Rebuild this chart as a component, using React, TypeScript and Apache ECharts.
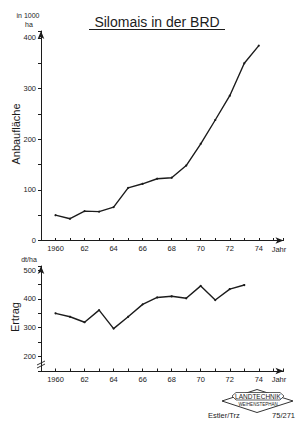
import React, { useEffect, useRef } from "react";
import * as echarts from "echarts";

const yearsArea = [1960, 1961, 1962, 1963, 1964, 1965, 1966, 1967, 1968, 1969, 1970, 1971, 1972, 1973, 1974];
const areaValues = [50, 43, 58, 57, 66, 104, 112, 122, 124, 148, 191, 238, 286, 350, 385];
const yearsYield = [1960, 1961, 1962, 1963, 1964, 1965, 1966, 1967, 1968, 1969, 1970, 1971, 1972, 1973];
const yieldValues = [350, 338, 319, 361, 297, 338, 381, 405, 409, 402, 445, 396, 434, 448];
const areaTickLabels = [0, 100, 200, 300, 400];
const yieldTickLabels = [200, 300, 400, 500];
const labeledYears = [1960, 1962, 1964, 1966, 1968, 1970, 1972, 1974];

const FONT = "Liberation Sans";
const INK = "#1c1c1c";

export default function App() {
  const ref = useRef<HTMLDivElement>(null);
  useEffect(() => {
    if (!ref.current) return;
    const chart = echarts.init(ref.current, undefined, { renderer: "svg" });

    const xFmt = (v: number) => {
      if (!labeledYears.includes(v)) return "";
      return v === 1960 ? "1960" : String(v).slice(2);
    };
    const xAxisBase = (gridIndex: number) => ({
      type: "value" as const,
      gridIndex,
      min: 1959,
      max: 1975.7,
      interval: 1,
      axisLine: {
        show: true,
        lineStyle: { color: INK, width: 1 },
        symbol: ["none", "arrow"],
        symbolSize: [5, 8],
      },
      axisTick: { show: true, inside: true, length: 2.5, lineStyle: { color: INK } },
      splitLine: { show: false },
      axisLabel: {
        formatter: xFmt,
        fontFamily: FONT,
        fontSize: 7.5,
        color: INK,
        margin: 4,
        showMinLabel: true,
        showMaxLabel: true,
        hideOverlap: false,
      },
    });
    const yAxisBase = (gridIndex: number, min: number, max: number, labels: number[]) => ({
      type: "value" as const,
      gridIndex,
      min,
      max,
      interval: 50,
      axisLine: {
        show: true,
        lineStyle: { color: INK, width: 1 },
        symbol: ["none", "arrow"],
        symbolSize: [5, 8],
      },
      axisTick: { show: true, inside: false, length: 3, lineStyle: { color: INK } },
      splitLine: { show: false },
      axisLabel: {
        formatter: (v: number) => (labels.includes(v) ? String(v) : ""),
        fontFamily: FONT,
        fontSize: 7.5,
        color: INK,
        margin: 5,
        hideOverlap: false,
      },
    });

    const lineSeries = (idx: number, xs: number[], ys: number[]) => ({
      type: "line" as const,
      xAxisIndex: idx,
      yAxisIndex: idx,
      data: xs.map((x, i) => [x, ys[i]]),
      symbol: "circle",
      symbolSize: 2.2,
      showSymbol: true,
      itemStyle: { color: INK },
      lineStyle: { color: INK, width: 1.4 },
      silent: true,
    });

    chart.setOption({
      animation: false,
      backgroundColor: "#ffffff",
      textStyle: { fontFamily: FONT },
      grid: [
        { left: 41, top: 31, width: 242.5, height: 209.5 },
        { left: 41, top: 266, width: 242.5, height: 105 },
      ],
      xAxis: [xAxisBase(0), xAxisBase(1)],
      yAxis: [
        yAxisBase(0, 0, 413.8, areaTickLabels),
        yAxisBase(1, 150, 514, yieldTickLabels),
      ],
      series: [lineSeries(0, yearsArea, areaValues), lineSeries(1, yearsYield, yieldValues)],
      graphic: [
        {
          type: "text",
          x: 157,
          y: 22,
          style: {
            text: "Silomais in der BRD",
            fontFamily: FONT,
            fontSize: 14,
            fill: INK,
            align: "center",
            verticalAlign: "middle",
          },
        },
        { type: "line", shape: { x1: 89, y1: 29.5, x2: 225, y2: 29.5 }, style: { stroke: INK, lineWidth: 1.2 } },
        {
          type: "text",
          x: 28,
          y: 15,
          style: { text: "in 1000", fontFamily: FONT, fontSize: 7, fill: INK, align: "center", verticalAlign: "middle" },
        },
        {
          type: "text",
          x: 29,
          y: 24,
          style: { text: "ha", fontFamily: FONT, fontSize: 7, fill: INK, align: "center", verticalAlign: "middle" },
        },
        {
          type: "text",
          x: 16,
          y: 134,
          rotation: Math.PI / 2,
          style: { text: "Anbaufläche", fontFamily: FONT, fontSize: 11, fill: INK, align: "center", verticalAlign: "middle" },
        },
        {
          type: "text",
          x: 279,
          y: 249,
          style: { text: "Jahr", fontFamily: FONT, fontSize: 7.5, fill: INK, align: "center", verticalAlign: "middle" },
        },
        {
          type: "text",
          x: 29,
          y: 259,
          style: { text: "dt/ha", fontFamily: FONT, fontSize: 7, fill: INK, align: "center", verticalAlign: "middle" },
        },
        {
          type: "text",
          x: 15,
          y: 317,
          rotation: Math.PI / 2,
          style: { text: "Ertrag", fontFamily: FONT, fontSize: 11, fill: INK, align: "center", verticalAlign: "middle" },
        },
        {
          type: "text",
          x: 279,
          y: 379,
          style: { text: "Jahr", fontFamily: FONT, fontSize: 7.5, fill: INK, align: "center", verticalAlign: "middle" },
        },
        { type: "line", shape: { x1: 37, y1: 365, x2: 45, y2: 361 }, style: { stroke: INK, lineWidth: 0.9 } },
        { type: "line", shape: { x1: 37, y1: 368, x2: 45, y2: 364 }, style: { stroke: INK, lineWidth: 0.9 } },
        {
          type: "polygon",
          shape: { points: [[222, 401], [257, 389.5], [293, 401], [257, 412.5]] },
          style: { fill: "#ffffff", stroke: INK, lineWidth: 0.9 },
        },
        {
          type: "polygon",
          shape: { points: [[232, 396], [236, 392.5], [280, 392.5], [284, 396], [280, 400], [236, 400]] },
          style: { fill: "#ffffff", stroke: INK, lineWidth: 0.7 },
        },
        {
          type: "text",
          x: 258,
          y: 396.5,
          style: { text: "LANDTECHNIK", fontFamily: FONT, fontSize: 6.5, fill: INK, align: "center", verticalAlign: "middle" },
        },
        {
          type: "text",
          x: 258,
          y: 404,
          style: { text: "WEIHENSTEPHAN", fontFamily: FONT, fontSize: 4.5, fill: INK, align: "center", verticalAlign: "middle" },
        },
        {
          type: "text",
          x: 208,
          y: 415,
          style: { text: "Estler/Trz", fontFamily: FONT, fontSize: 7.5, fill: INK, align: "left", verticalAlign: "middle" },
        },
        {
          type: "text",
          x: 295,
          y: 415,
          style: { text: "75/271", fontFamily: FONT, fontSize: 7.5, fill: INK, align: "right", verticalAlign: "middle" },
        },
      ],
    });
    return () => chart.dispose();
  }, []);

  return (
    <div
      ref={ref}
      style={{ position: "fixed", left: 0, top: 0, width: 306, height: 432, background: "#fff" }}
    />
  );
}
